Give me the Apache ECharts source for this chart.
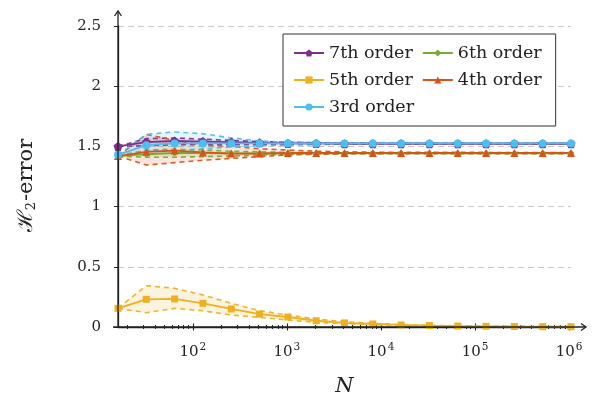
<!DOCTYPE html>
<html>
<head>
<meta charset="utf-8">
<script src="https://cdn.jsdelivr.net/npm/echarts@6/dist/echarts.min.js"></script>
<style>
  html, body { margin: 0; padding: 0; background: #fff; }
  #chart { width: 593px; height: 397px; }
</style>
</head>
<body>
<div id="chart"></div>
<script>
// Sample sizes N (powers of two, 2^4 .. 2^20)
const sampleSizes = [16, 32, 64, 128, 256, 512, 1024, 2048, 4096, 8192, 16384, 32768, 65536, 131072, 262144, 524288, 1048576];

// H2-error per order: mean, upper and lower band
const o7Mean  = [1.50, 1.535, 1.545, 1.54, 1.535, 1.53, 1.525, 1.525, 1.522, 1.522, 1.522, 1.522, 1.522, 1.522, 1.522, 1.522, 1.522];
const o7Upper = [1.50, 1.565, 1.57, 1.56, 1.55, 1.54, 1.535, 1.53, 1.528, 1.527, 1.526, 1.525, 1.525, 1.525, 1.525, 1.525, 1.525];
const o7Lower = [1.50, 1.505, 1.515, 1.515, 1.515, 1.515, 1.515, 1.517, 1.518, 1.518, 1.519, 1.519, 1.519, 1.519, 1.519, 1.519, 1.519];

const o6Mean  = [1.42, 1.435, 1.445, 1.445, 1.442, 1.442, 1.443, 1.443, 1.443, 1.443, 1.443, 1.443, 1.443, 1.443, 1.443, 1.443, 1.443];
const o6Upper = [1.42, 1.47, 1.475, 1.47, 1.46, 1.455, 1.45, 1.448, 1.447, 1.446, 1.446, 1.446, 1.446, 1.446, 1.446, 1.446, 1.446];
const o6Lower = [1.42, 1.41, 1.41, 1.415, 1.42, 1.428, 1.433, 1.436, 1.438, 1.44, 1.44, 1.44, 1.44, 1.44, 1.44, 1.44, 1.44];

const o5Mean  = [0.155, 0.230, 0.233, 0.197, 0.150, 0.107, 0.083, 0.052, 0.034, 0.025, 0.017, 0.012, 0.008, 0.006, 0.004, 0.003, 0.002];
const o5Upper = [0.155, 0.343, 0.321, 0.266, 0.197, 0.135, 0.100, 0.066, 0.044, 0.030, 0.020, 0.014, 0.010, 0.007, 0.005, 0.004, 0.003];
const o5Lower = [0.155, 0.119, 0.155, 0.135, 0.100, 0.080, 0.058, 0.039, 0.028, 0.020, 0.014, 0.010, 0.007, 0.005, 0.003, 0.002, 0.001];

const o4Mean  = [1.42, 1.455, 1.465, 1.45, 1.44, 1.44, 1.445, 1.445, 1.445, 1.445, 1.445, 1.445, 1.445, 1.445, 1.445, 1.445, 1.445];
const o4Upper = [1.42, 1.60, 1.55, 1.51, 1.50, 1.48, 1.47, 1.46, 1.455, 1.452, 1.45, 1.45, 1.45, 1.45, 1.449, 1.449, 1.449];
const o4Lower = [1.42, 1.345, 1.365, 1.385, 1.40, 1.415, 1.43, 1.435, 1.438, 1.44, 1.441, 1.441, 1.441, 1.441, 1.441, 1.441, 1.441];

const o3Mean  = [1.43, 1.51, 1.525, 1.525, 1.525, 1.525, 1.525, 1.525, 1.525, 1.525, 1.525, 1.525, 1.525, 1.525, 1.525, 1.525, 1.525];
const o3Upper = [1.43, 1.60, 1.62, 1.605, 1.57, 1.545, 1.535, 1.532, 1.53, 1.53, 1.529, 1.529, 1.529, 1.529, 1.529, 1.529, 1.529];
const o3Lower = [1.43, 1.46, 1.465, 1.48, 1.495, 1.505, 1.512, 1.516, 1.518, 1.519, 1.52, 1.52, 1.52, 1.52, 1.52, 1.52, 1.52];

// Axis ticks and labels
const xMajorTicks = [1e2, 1e3, 1e4, 1e5, 1e6];
const xMajorLabels = ['2', '3', '4', '5', '6'];
const xMinorMultipliers = [2, 3, 4, 5, 6, 7, 8, 9];
const xMinorDecades = [10, 100, 1000, 10000, 100000];
const yTicks = [0, 0.5, 1, 1.5, 2, 2.5];

const xMinorTicks = [];
xMinorDecades.forEach(d => xMinorMultipliers.forEach(m => xMinorTicks.push(m * d)));

const X_MIN = sampleSizes[0];
const X_MAX = sampleSizes[sampleSizes.length - 1];
const Y_MIN = yTicks[0];
const Y_MAX = yTicks[yTicks.length - 1];

const FONT = "'DejaVu Serif', 'Liberation Serif', serif";
const AXIS_COLOR = '#222';
const PENTAGON = 'path://M0,-1 L0.951,-0.309 L0.588,0.809 L-0.588,0.809 L-0.951,-0.309 Z';

const orders = [
  { name: '7th order', color: '#7E2F8E', symbol: PENTAGON, size: 9, mean: o7Mean, upper: o7Upper, lower: o7Lower },
  { name: '6th order', color: '#77AC30', symbol: 'diamond', size: 7, mean: o6Mean, upper: o6Upper, lower: o6Lower },
  { name: '5th order', color: '#EDB120', symbol: 'rect', size: 7, mean: o5Mean, upper: o5Upper, lower: o5Lower },
  { name: '4th order', color: '#D95319', symbol: 'triangle', size: 8, mean: o4Mean, upper: o4Upper, lower: o4Lower },
  { name: '3rd order', color: '#4DBEEE', symbol: 'circle', size: 8, mean: o3Mean, upper: o3Upper, lower: o3Lower }
];

const pairs = arr => sampleSizes.map((n, i) => [n, arr[i]]);

const series = [];
orders.forEach((o) => {
  // shaded band between lower and upper curves, drawn as one polygon
  series.push({
    name: o.name + ' band', type: 'custom', silent: true, z: 2,
    data: sampleSizes.map((n, i) => [n, o.lower[i], o.upper[i]]),
    encode: { x: 0, y: [1, 2] },
    renderItem: (params, api) => {
      if (params.dataIndex !== 0) return null;
      const top = sampleSizes.map((n, i) => api.coord([n, o.upper[i]]));
      const bottom = sampleSizes.map((n, i) => api.coord([n, o.lower[i]])).reverse();
      return {
        type: 'polygon',
        shape: { points: top.concat(bottom) },
        style: { fill: o.color, opacity: 0.15 }
      };
    }
  });
  ['upper', 'lower'].forEach(side => {
    series.push({
      name: o.name + ' ' + side, type: 'line', silent: true,
      data: pairs(o[side]), symbol: 'none',
      lineStyle: { color: o.color, width: 1.6, type: [5, 4], opacity: 0.95 }, z: 3
    });
  });
  series.push({
    name: o.name, type: 'line', data: pairs(o.mean),
    symbol: o.symbol, symbolSize: o.size, showSymbol: true,
    itemStyle: { color: o.color },
    lineStyle: { color: o.color, width: 1.8 }, z: 4
  });
});

const logAxisBase = {
  type: 'log', logBase: 10, min: X_MIN, max: X_MAX, gridIndex: 0, position: 'bottom',
  axisLine: { show: false }, axisLabel: { show: false }, splitLine: { show: false }
};

const xAxes = [
  Object.assign({}, logAxisBase, {
    axisLine: { show: true, lineStyle: { color: AXIS_COLOR, width: 1.3 } },
    axisTick: { show: true, inside: false, length: 2, customValues: xMinorTicks, lineStyle: { color: AXIS_COLOR, width: 1 } },
    axisLabel: {
      show: true, customValues: xMajorTicks, margin: 15,
      formatter: v => {
        const i = xMajorTicks.findIndex(t => Math.abs(t - v) / t < 1e-6);
        return i < 0 ? '' : '{b|10}{s|' + xMajorLabels[i] + '}';
      },
      rich: {
        b: { fontFamily: FONT, fontSize: 15, color: '#222' },
        s: { fontFamily: FONT, fontSize: 10.5, color: '#222', verticalAlign: 'bottom', padding: [0, 0, 9, 1] }
      }
    },
    name: 'N', nameLocation: 'middle', nameGap: 49,
    nameTextStyle: { fontFamily: FONT, fontStyle: 'italic', fontSize: 21, color: '#222' }
  }),
  Object.assign({}, logAxisBase, {
    axisTick: { show: true, inside: true, length: 2, customValues: xMinorTicks, lineStyle: { color: AXIS_COLOR, width: 1 } }
  }),
  Object.assign({}, logAxisBase, {
    axisTick: { show: true, inside: false, length: 3.5, customValues: xMajorTicks, lineStyle: { color: AXIS_COLOR, width: 1.1 } }
  }),
  Object.assign({}, logAxisBase, {
    axisTick: { show: true, inside: true, length: 3.5, customValues: xMajorTicks, lineStyle: { color: AXIS_COLOR, width: 1.1 } }
  })
];

const option = {
  backgroundColor: '#fff',
  animation: false,
  textStyle: { fontFamily: FONT },
  grid: { left: 118, right: 22, top: 26, bottom: 70, containLabel: false, outerBoundsMode: 'none' },
  legend: {
    data: orders.map(o => o.name),
    left: 283, top: 34, width: 262,
    orient: 'horizontal',
    backgroundColor: '#fff', borderColor: '#333', borderWidth: 1, borderRadius: 0,
    padding: [10, 14, 10, 10],
    itemWidth: 30, itemHeight: 9, itemGap: 9,
    textStyle: { fontFamily: FONT, fontSize: 17.5, color: '#222' }
  },
  xAxis: xAxes,
  yAxis: [{
    type: 'value', min: Y_MIN, max: Y_MAX, interval: 0.5,
    axisLine: { show: true, lineStyle: { color: AXIS_COLOR, width: 1.3 } },
    axisTick: { show: true, inside: false, length: 4, lineStyle: { color: AXIS_COLOR, width: 1 } },
    axisLabel: {
      margin: 17, fontFamily: FONT, fontSize: 15, color: '#222',
      formatter: v => String(v)
    },
    splitLine: { show: true, showMinLine: false, lineStyle: { color: '#c8c8c8', width: 1, type: [6, 4] } },
    name: '{h|ℋ}{s|2}{t|-error}', nameLocation: 'middle', nameGap: 80, nameRotate: 90,
    nameTextStyle: {
      padding: [0, 18, 0, 0],
      rich: {
        h: { fontFamily: FONT, fontSize: 21, color: '#222' },
        s: { fontFamily: FONT, fontSize: 13, color: '#222', verticalAlign: 'top', padding: [10, 1, 0, 0] },
        t: { fontFamily: FONT, fontSize: 21, color: '#222' }
      }
    }
  }],
  series: series.map(s => Object.assign({ xAxisIndex: 0, yAxisIndex: 0 }, s))
};

const chart = echarts.init(document.getElementById('chart'), null, { renderer: 'canvas' });
chart.setOption(option);

// Extend both axis lines past the plot area and finish them with arrow heads
const p0 = chart.convertToPixel({ xAxisIndex: 0, yAxisIndex: 0 }, [X_MIN, Y_MIN]);
const p1 = chart.convertToPixel({ xAxisIndex: 0, yAxisIndex: 0 }, [X_MAX, Y_MAX]);
const ext = 15;
const arrowStyle = { stroke: AXIS_COLOR, lineWidth: 1.3, fill: null };
chart.setOption({
  graphic: [
    { type: 'line', shape: { x1: p0[0] - 5, y1: p0[1], x2: p1[0] + ext, y2: p0[1] }, style: { stroke: AXIS_COLOR, lineWidth: 1.3 }, z: 10 },
    { type: 'polyline', shape: { points: [[p1[0] + ext - 5, p0[1] - 3.5], [p1[0] + ext, p0[1]], [p1[0] + ext - 5, p0[1] + 3.5]] }, style: arrowStyle, z: 10 },
    { type: 'line', shape: { x1: p0[0], y1: p0[1], x2: p0[0], y2: p1[1] - ext }, style: { stroke: AXIS_COLOR, lineWidth: 1.3 }, z: 10 },
    { type: 'polyline', shape: { points: [[p0[0] - 3.5, p1[1] - ext + 5], [p0[0], p1[1] - ext], [p0[0] + 3.5, p1[1] - ext + 5]] }, style: arrowStyle, z: 10 }
  ]
});
</script>
</body>
</html>
